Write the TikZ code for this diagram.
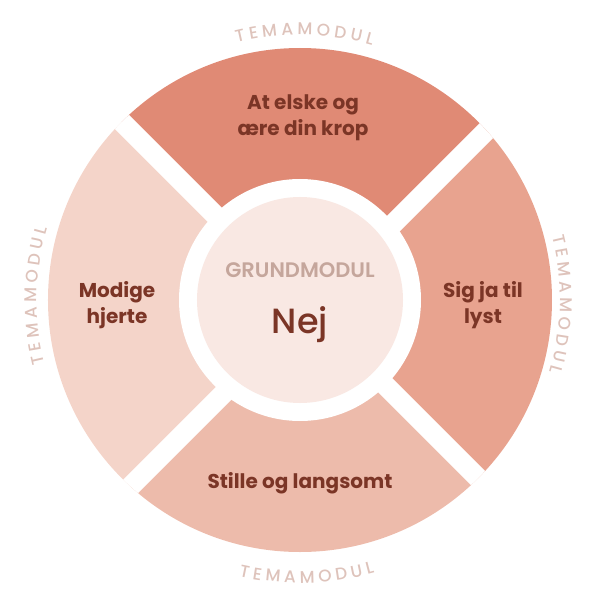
\documentclass[tikz,border=0pt]{standalone}
\usepackage{fontspec}
\setmainfont{Poppins}
\newfontfamily\mediumfont{Poppins Medium}
\newfontfamily\semifont{Poppins SemiBold}
\usetikzlibrary{
  calc,
  decorations.text,
  positioning,
}
\definecolor{segtop}{HTML}{E08A75}
\definecolor{segright}{HTML}{E8A38F}
\definecolor{segbottom}{HTML}{EDBBAB}
\definecolor{segleft}{HTML}{F4D4C9}
\definecolor{corefill}{HTML}{F9E8E3}
\definecolor{labelbrown}{HTML}{7B3526}
\definecolor{grundgrey}{HTML}{C5A69C}
\definecolor{temagrey}{HTML}{DEC3BB}
\tikzset{
  seglabel/.style={text=labelbrown,font=\fontsize{20}{26}\selectfont\bfseries,align=center},
  gapband/.style={draw=white,line width=20},
  grund/.style={text=grundgrey,font=\fontsize{21}{24}\selectfont\semifont,inner sep=0},
  nej/.style={text=labelbrown,font=\fontsize{35}{40}\selectfont\mediumfont,inner sep=0},
  tema/.style={decorate,decoration={text along path,text align=center,text color=temagrey,
    text={T{\kern4pt}E{\kern4pt}M{\kern4pt}A{\kern4pt}M{\kern4pt}O{\kern4pt}D{\kern4pt}U{\kern4pt}L}}},
}

\begin{document}
\begin{tikzpicture}[x=1pt,y=1pt]

        \useasboundingbox (-300,-300) rectangle (300,300);
        \coordinate (c) at (8.5,-8.5);

        \begin{scope}
          \clip (0,0) circle (252);
          \fill[segtop] (c) -- ++(-400,400) -- ++(800,0) -- cycle;
          \fill[segright] (c) -- ++(400,400) -- ++(0,-800) -- cycle;
          \fill[segbottom] (c) -- ++(400,-400) -- ++(-800,0) -- cycle;
          \fill[segleft] (c) -- ++(-400,-400) -- ++(0,800) -- cycle;
          \draw[gapband] ($(c)+(-300,300)$) -- ($(c)+(300,-300)$);
          \draw[gapband] ($(c)+(-300,-300)$) -- ($(c)+(300,300)$);
        \end{scope}

        \fill[white] (0,0) circle (121);
        \node[circle,fill=corefill,minimum size=206,inner sep=0] (core) at (0,0) {};

        \node[seglabel] (love)  at (3,182)   {At elske og\\ære din krop};
        \node[seglabel] (heart) at (-183,-5) {Modige\\hjerte};
        \node[seglabel] (lust)  at (183,-5)  {Sig ja til\\lyst};
        \node[seglabel] (slow)  at (0,-183)  {Stille og langsomt};

        \node[grund] (grundmodul) at (0,30) {GRUNDMODUL};
        \node[nej,anchor=base] (nej) at (0,-33) {Nej};

        \begin{scope}
          \fontsize{17}{20}\selectfont\mediumfont
          \path[tema] (159:265) arc (159:19:265);
          \path[tema] (249:263) arc (249:109:263);
          \path[tema] (69:260) arc (69:-71:260);
          \path[tema] (201.4:283) arc (201.4:341.4:283);
        \end{scope}

      \end{tikzpicture}
\end{document}
